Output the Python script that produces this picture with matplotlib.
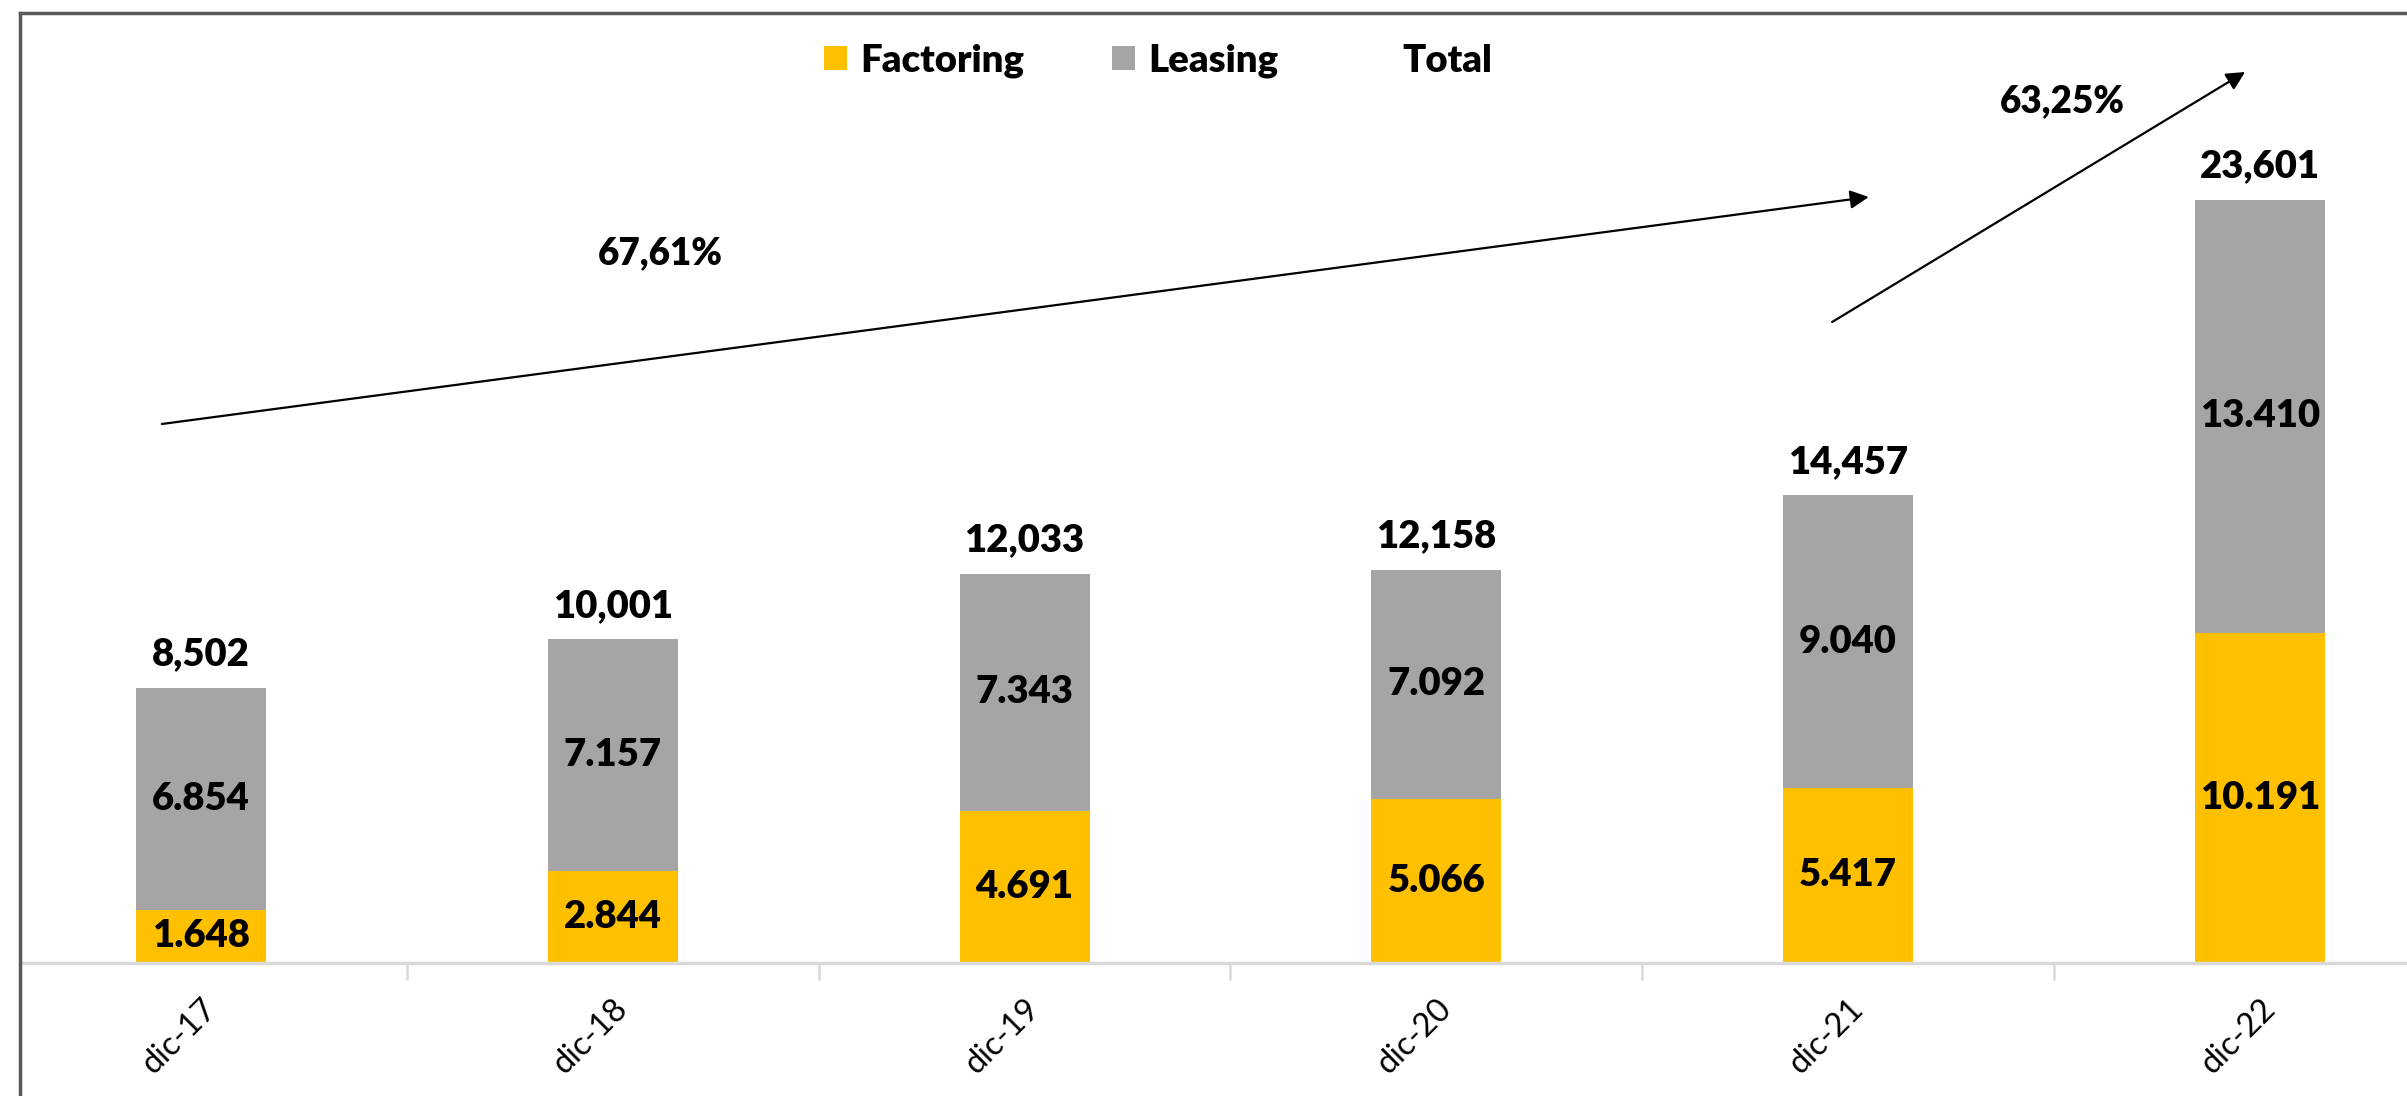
import matplotlib
matplotlib.use("Agg")
import matplotlib.pyplot as plt
from matplotlib.patches import Patch
from matplotlib.lines import Line2D

# ----------------------------------------------------------------------
# data
# ----------------------------------------------------------------------
periods = ["dic-17", "dic-18", "dic-19", "dic-20", "dic-21", "dic-22"]
factoring = [1648, 2844, 4691, 5066, 5417, 10191]
leasing = [6854, 7157, 7343, 7092, 9040, 13410]
totals = [8502, 10001, 12033, 12158, 14457, 23601]

growth_labels = ["67,61%", "63,25%"]

YELLOW = "#FFC000"
GRAY = "#A5A5A5"
FONT = ["Lato", "DejaVu Sans"]
LAB_SIZE = 27.5
LAB_WEIGHT = "heavy"

plt.rcParams.update({
    "font.family": FONT,
    "axes.unicode_minus": False,
})

W, H = 2407, 1096
fig = plt.figure(figsize=(W / 100, H / 100), dpi=100)
fig.patch.set_facecolor("white")

# axes box in pixel terms (screenshot is cropped on the left/right)
left_px, top_px, base_px = 20, 13, 963
ax = fig.add_axes([left_px / W, 1 - base_px / H, 1 - left_px / W, (base_px - top_px) / H])

x = list(range(len(periods)))
bar_w = 0.316
ax.bar(x, factoring, width=bar_w, color=YELLOW, label="Factoring", zorder=2)
ax.bar(x, leasing, width=bar_w, bottom=factoring, color=GRAY, label="Leasing", zorder=2)

ax.set_xlim(-0.4395, 5.357)
ax.set_ylim(0, 29369)

# segment labels (dot thousands separator) and totals (comma separator)
lab_kw = dict(ha="center", va="center", fontsize=LAB_SIZE, fontweight=LAB_WEIGHT, color="black")
for i in x:
    ax.text(i, factoring[i] / 2, f"{factoring[i]:,}".replace(",", "."), **lab_kw)
    ax.text(i, factoring[i] + leasing[i] / 2, f"{leasing[i]:,}".replace(",", "."), **lab_kw)
    ax.annotate(f"{totals[i]:,}", (i, factoring[i] + leasing[i]), xytext=(0, 12),
                textcoords="offset points", ha="center", va="bottom",
                fontsize=LAB_SIZE, fontweight=LAB_WEIGHT)

# growth arrows
arrow_kw = dict(arrowstyle="-|>", color="black", lw=1.6, mutation_scale=28,
                shrinkA=0, shrinkB=0)
ax.annotate("", xy=(4.05, 23681), xytext=(-0.095, 16663), arrowprops=arrow_kw)
ax.annotate("", xy=(4.964, 27545), xytext=(3.961, 19816), arrowprops=arrow_kw)
ax.text(1.115, 21950, growth_labels[0], ha="center", va="center",
        fontsize=26.5, fontweight=LAB_WEIGHT)
ax.text(4.519, 26648, growth_labels[1], ha="center", va="center",
        fontsize=26.5, fontweight=LAB_WEIGHT)

# axes styling
for s in ["top", "right", "left"]:
    ax.spines[s].set_visible(False)
ax.spines["bottom"].set_color("#D9D9D9")
ax.spines["bottom"].set_linewidth(2.5)
ax.set_yticks([])
ax.set_xticks(x)
ax.set_xticklabels(periods, fontsize=23.5)
ax.tick_params(axis="x", which="major", length=0, pad=22)
ax.set_xticks([i + 0.5 for i in x[:-1]], minor=True)
ax.tick_params(axis="x", which="minor", length=12, width=1.8, color="#D9D9D9")
plt.setp(ax.get_xticklabels(), rotation=45, ha="right", rotation_mode="anchor")

# legend (Total has no visible key)
handles = [
    Patch(facecolor=YELLOW, edgecolor="none"),
    Patch(facecolor=GRAY, edgecolor="none"),
    Patch(facecolor="none", edgecolor="none"),
]
leg = fig.legend(handles, ["Factoring", "Leasing", "Total"], ncol=3,
                 loc="center", bbox_to_anchor=(1158 / W, 1 - 61 / H),
                 frameon=False, prop={"family": FONT, "weight": LAB_WEIGHT, "size": 27.5},
                 handlelength=0.6, handleheight=0.6, handletextpad=0.35,
                 columnspacing=2.3)

# screenshot border (top and left only)
bx, by = left_px / W, 1 - top_px / H
fig.add_artist(Line2D([bx, bx], [0, by], transform=fig.transFigure,
                      color="#5A5A5A", lw=2.5))
fig.add_artist(Line2D([bx, 1], [by, by], transform=fig.transFigure,
                      color="#5A5A5A", lw=2.5))

fig.savefig("out.png", dpi=100, facecolor="white")
